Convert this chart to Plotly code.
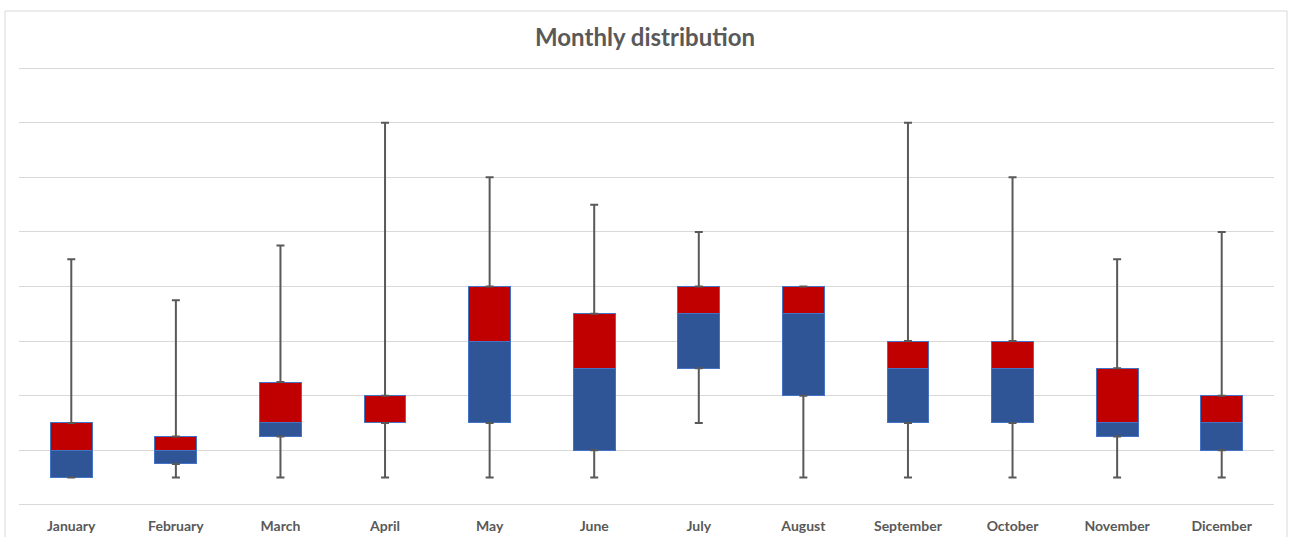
import plotly.graph_objects as go

# Monthly five-number summaries
months = ["January", "February", "March", "April", "May", "June", "July",
          "August", "September", "October", "November", "Dicember"]
mins = [0.5, 0.5, 0.5, 0.5, 0.5, 0.5, 1.5, 0.5, 0.5, 0.5, 0.5, 0.5]
q1 = [0.5, 0.75, 1.25, 1.5, 1.5, 1.0, 2.5, 2.0, 1.5, 1.5, 1.25, 1.0]
medians = [1.0, 1.0, 1.5, 1.5, 3.0, 2.5, 3.5, 3.5, 2.5, 2.5, 1.5, 1.5]
q3 = [1.5, 1.25, 2.25, 2.0, 4.0, 3.5, 4.0, 4.0, 3.0, 3.0, 2.5, 2.0]
maxs = [4.5, 3.75, 4.75, 7.0, 6.0, 5.5, 5.0, 4.0, 7.0, 6.0, 4.5, 5.0]

lower_box = [m - a for m, a in zip(medians, q1)]
upper_box = [b - m for b, m in zip(q3, medians)]
low_whisker = [a - lo for a, lo in zip(q1, mins)]
high_whisker = [hi - b for hi, b in zip(maxs, q3)]

BLUE = "#2F5597"
RED = "#C00000"
EDGE = "#4472C4"
GREY = "#595959"
FONT = "Lato, 'Open Sans', sans-serif"

fig = go.Figure()

# invisible offset up to Q1
fig.add_trace(go.Bar(x=months, y=q1, marker=dict(color="rgba(0,0,0,0)", line=dict(width=0)),
                     width=0.4, hoverinfo="skip", showlegend=False))
fig.add_trace(go.Bar(x=months, y=lower_box, marker=dict(color=BLUE, line=dict(color=EDGE, width=1)),
                     width=0.4, showlegend=False))
fig.add_trace(go.Bar(x=months, y=upper_box, marker=dict(color=RED, line=dict(color=EDGE, width=1)),
                     width=0.4, showlegend=False))

# whiskers
fig.add_trace(go.Scatter(x=months, y=q1, mode="markers", marker=dict(size=0.1, color="rgba(0,0,0,0)"),
                         error_y=dict(type="data", symmetric=False, array=[0] * len(months),
                                      arrayminus=low_whisker, color=GREY, thickness=2, width=4),
                         showlegend=False, hoverinfo="skip"))
fig.add_trace(go.Scatter(x=months, y=q3, mode="markers", marker=dict(size=0.1, color="rgba(0,0,0,0)"),
                         error_y=dict(type="data", symmetric=False, array=high_whisker,
                                      arrayminus=[0] * len(months), color=GREY, thickness=2, width=4),
                         showlegend=False, hoverinfo="skip"))

W, H = 1290, 537
ml, mr, mt, mb = 19, 16, 66, 30
pw, ph = W - ml - mr, H - mt - mb

fig.update_layout(
    width=W, height=H,
    barmode="stack",
    paper_bgcolor="white",
    plot_bgcolor="white",
    margin=dict(l=ml, r=mr, t=mt, b=mb),
    title=dict(text="<b>Monthly distribution</b>", x=0.5, xanchor="center", y=1 - 38 / H,
               yanchor="middle", font=dict(family=FONT, size=24, color=GREY)),
    xaxis=dict(range=[-0.5, len(months) - 0.5], showgrid=False, showline=False, zeroline=False,
               ticks="", ticklabelstandoff=9, automargin=False,
               tickfont=dict(family=FONT, size=14, color=GREY, weight="bold")),
    yaxis=dict(range=[-0.04, 8.04], dtick=1, showgrid=True, gridcolor="#D9D9D9", gridwidth=1,
               zeroline=False, showline=False, showticklabels=False, ticks="", automargin=False),
    shapes=[dict(type="rect", xref="paper", yref="paper",
                 x0=(5 - ml) / pw, x1=(1287 - ml) / pw,
                 y0=-(560 - (H - mb)) / ph,
                 y1=(H - mb - 11) / ph,
                 line=dict(color="#D9D9D9", width=1), fillcolor="rgba(0,0,0,0)", layer="below")],
)

fig.write_html("out.html")
